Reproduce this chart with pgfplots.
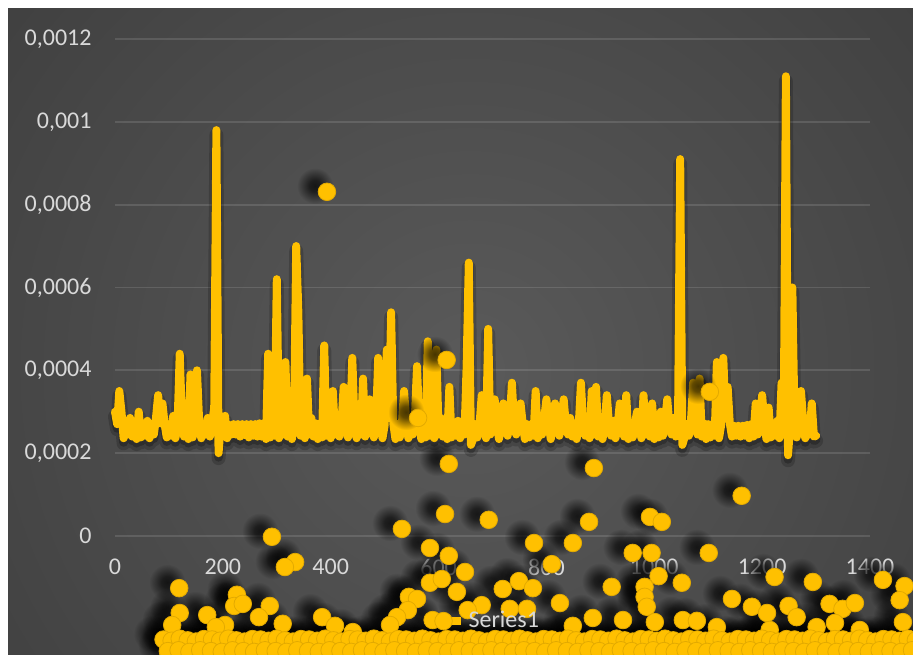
\documentclass[border=0pt]{standalone}
\usepackage{fontspec}
\setmainfont{Carlito}
\usepackage{pgfplots}
\usepackage{pgfplotstable}
\pgfplotsset{compat=1.18}
\definecolor{gold}{HTML}{FFC000}
\definecolor{golddark}{HTML}{E3AA00}
\definecolor{ticktext}{HTML}{D9D9D9}
\definecolor{bgin}{HTML}{5A5A5A}
\definecolor{bgout}{HTML}{262626}
\pgfdeclareradialshading{glow}{\pgfpoint{0bp}{0bp}}{color(0bp)=(bgin); color(50bp)=(bgout)}
\pgfdeclareradialshading{fuzzyshade}{\pgfpointorigin}{color(0bp)=(white!72!black); color(8bp)=(white!62!black); color(25bp)=(black); color(50bp)=(black)}
\pgfdeclarefading{fuzzy}{\pgfuseshading{fuzzyshade}}
\pgfdeclareplotmark{softshadow}{%
  \pgfscope
  \pgflowlevelsynccm
  \pgfsetfading{fuzzy}{\pgftransformscale{0.36}}%
  \pgfpathcircle{\pgfpointorigin}{9.5pt}%
  \pgfusepath{fill}%
  \endpgfscope
}

\pgfplotstableread[row sep=\\]{
x y\\
0 3.0e-4\\ 4 2.70e-4\\ 8 3.5e-4\\ 12 3.0e-4\\ 16 2.36e-4\\ 20 2.68e-4\\ 24 2.45e-4\\ 28 2.85e-4\\ 32 2.40e-4\\ 36 2.72e-4\\
40 2.34e-4\\ 44 3.0e-4\\ 48 2.38e-4\\ 52 2.70e-4\\ 56 2.42e-4\\ 60 2.78e-4\\ 64 2.36e-4\\ 68 2.68e-4\\ 72 2.45e-4\\ 76 2.85e-4\\
80 3.4e-4\\ 84 2.72e-4\\ 88 3.2e-4\\ 92 2.70e-4\\ 96 2.38e-4\\ 100 2.70e-4\\ 104 2.42e-4\\ 108 2.9e-4\\ 112 2.36e-4\\ 116 2.68e-4\\
120 4.4e-4\\ 124 2.85e-4\\ 128 2.40e-4\\ 132 2.72e-4\\ 136 2.34e-4\\ 140 3.9e-4\\ 144 2.38e-4\\ 148 2.70e-4\\ 152 4.0e-4\\ 156 2.78e-4\\
160 2.36e-4\\ 164 2.68e-4\\ 168 2.45e-4\\ 172 2.85e-4\\ 176 2.40e-4\\ 180 2.72e-4\\ 184 3.1e-4\\ 188 9.8e-4\\ 192 2.0e-4\\ 196 2.70e-4\\
200 2.42e-4\\ 204 2.9e-4\\ 208 2.36e-4\\ 212 2.68e-4\\ 216 2.45e-4\\ 220 2.70e-4\\ 224 2.45e-4\\ 228 2.70e-4\\ 232 2.40e-4\\ 236 2.70e-4\\
240 2.44e-4\\ 244 2.70e-4\\ 248 2.38e-4\\ 252 2.70e-4\\ 256 2.42e-4\\ 260 2.70e-4\\ 264 2.40e-4\\ 268 2.72e-4\\ 272 2.40e-4\\ 276 2.72e-4\\
280 2.34e-4\\ 284 4.4e-4\\ 288 2.38e-4\\ 292 2.70e-4\\ 296 2.42e-4\\ 300 6.2e-4\\ 304 2.36e-4\\ 308 2.68e-4\\ 312 2.45e-4\\ 316 4.2e-4\\
320 2.40e-4\\ 324 2.72e-4\\ 328 2.34e-4\\ 332 2.70e-4\\ 336 7.0e-4\\ 340 5.4e-4\\ 344 2.42e-4\\ 348 3.6e-4\\ 352 2.36e-4\\ 356 3.8e-4\\
360 2.45e-4\\ 364 2.85e-4\\ 368 2.40e-4\\ 372 2.72e-4\\ 376 2.34e-4\\ 380 2.70e-4\\ 384 2.38e-4\\ 388 4.6e-4\\ 392 2.42e-4\\ 396 2.78e-4\\
400 2.36e-4\\ 404 3.5e-4\\ 408 2.45e-4\\ 412 2.85e-4\\ 416 2.40e-4\\ 420 2.72e-4\\ 424 3.6e-4\\ 428 2.70e-4\\ 432 2.38e-4\\ 436 2.70e-4\\
440 4.3e-4\\ 444 2.78e-4\\ 448 2.36e-4\\ 452 2.68e-4\\ 456 2.45e-4\\ 460 3.8e-4\\ 464 2.40e-4\\ 468 2.72e-4\\ 472 3.3e-4\\ 476 2.70e-4\\
480 2.38e-4\\ 484 2.70e-4\\ 488 4.3e-4\\ 492 2.78e-4\\ 496 2.36e-4\\ 500 2.68e-4\\ 504 4.5e-4\\ 508 2.85e-4\\ 512 5.4e-4\\ 516 2.72e-4\\
520 2.34e-4\\ 524 2.70e-4\\ 528 2.38e-4\\ 532 2.70e-4\\ 536 3.5e-4\\ 540 2.78e-4\\ 544 2.36e-4\\ 548 2.68e-4\\ 552 2.45e-4\\ 556 2.85e-4\\
560 4.1e-4\\ 564 2.72e-4\\ 568 2.34e-4\\ 572 2.70e-4\\ 576 2.38e-4\\ 580 4.7e-4\\ 584 2.42e-4\\ 588 2.78e-4\\ 592 2.36e-4\\ 596 4.5e-4\\
600 2.45e-4\\ 604 2.85e-4\\ 608 2.40e-4\\ 612 2.72e-4\\ 616 2.34e-4\\ 620 3.6e-4\\ 624 2.38e-4\\ 628 2.70e-4\\ 632 2.42e-4\\ 636 2.78e-4\\
640 2.36e-4\\ 644 2.68e-4\\ 648 2.45e-4\\ 652 4.1e-4\\ 656 6.6e-4\\ 660 2.2e-4\\ 664 2.34e-4\\ 668 2.70e-4\\ 672 2.38e-4\\ 676 2.70e-4\\
680 3.4e-4\\ 684 2.78e-4\\ 688 2.36e-4\\ 692 5.0e-4\\ 696 2.45e-4\\ 700 2.85e-4\\ 704 3.3e-4\\ 708 2.72e-4\\ 712 2.34e-4\\ 716 2.70e-4\\
720 3.2e-4\\ 724 2.70e-4\\ 728 2.42e-4\\ 732 2.78e-4\\ 736 3.7e-4\\ 740 2.68e-4\\ 744 2.45e-4\\ 748 2.85e-4\\ 752 3.2e-4\\ 756 2.72e-4\\
760 2.34e-4\\ 764 2.70e-4\\ 768 2.38e-4\\ 772 2.70e-4\\ 776 2.42e-4\\ 780 3.5e-4\\ 784 2.36e-4\\ 788 2.68e-4\\ 792 2.45e-4\\ 796 2.85e-4\\
800 3.3e-4\\ 804 2.72e-4\\ 808 2.34e-4\\ 812 2.70e-4\\ 816 3.2e-4\\ 820 2.70e-4\\ 824 2.42e-4\\ 828 2.78e-4\\ 832 3.3e-4\\ 836 2.68e-4\\
840 2.45e-4\\ 844 2.85e-4\\ 848 2.40e-4\\ 852 2.72e-4\\ 856 2.34e-4\\ 860 2.70e-4\\ 864 3.7e-4\\ 868 2.70e-4\\ 872 2.42e-4\\ 876 2.78e-4\\
880 2.36e-4\\ 884 3.5e-4\\ 888 2.45e-4\\ 892 3.6e-4\\ 896 2.40e-4\\ 900 2.72e-4\\ 904 2.34e-4\\ 908 2.70e-4\\ 912 3.4e-4\\ 916 2.70e-4\\
920 2.42e-4\\ 924 2.78e-4\\ 928 2.36e-4\\ 932 2.68e-4\\ 936 3.2e-4\\ 940 2.85e-4\\ 944 2.40e-4\\ 948 3.4e-4\\ 952 2.34e-4\\ 956 2.70e-4\\
960 2.38e-4\\ 964 2.70e-4\\ 968 3.0e-4\\ 972 2.78e-4\\ 976 2.36e-4\\ 980 3.4e-4\\ 984 2.45e-4\\ 988 2.85e-4\\ 992 2.40e-4\\ 996 3.2e-4\\
1000 2.34e-4\\ 1004 2.70e-4\\ 1008 2.38e-4\\ 1012 3.0e-4\\ 1016 2.42e-4\\ 1020 2.78e-4\\ 1024 3.3e-4\\ 1028 2.68e-4\\ 1032 2.45e-4\\ 1036 2.85e-4\\
1040 2.40e-4\\ 1044 2.72e-4\\ 1048 9.1e-4\\ 1052 2.2e-4\\ 1056 2.38e-4\\ 1060 2.70e-4\\ 1064 2.42e-4\\ 1068 2.78e-4\\ 1072 3.7e-4\\ 1076 2.68e-4\\
1080 2.45e-4\\ 1084 3.8e-4\\ 1088 2.40e-4\\ 1092 2.72e-4\\ 1096 2.34e-4\\ 1100 2.70e-4\\ 1104 2.38e-4\\ 1108 2.70e-4\\ 1112 2.42e-4\\ 1116 4.2e-4\\
1120 2.36e-4\\ 1124 2.68e-4\\ 1128 4.3e-4\\ 1132 2.85e-4\\ 1136 3.6e-4\\ 1140 2.72e-4\\ 1144 2.40e-4\\ 1148 2.66e-4\\ 1152 2.42e-4\\ 1156 2.66e-4\\
1160 2.40e-4\\ 1164 2.66e-4\\ 1168 2.42e-4\\ 1172 2.68e-4\\ 1176 2.36e-4\\ 1180 2.70e-4\\ 1184 2.40e-4\\ 1188 3.2e-4\\ 1192 2.45e-4\\ 1196 2.85e-4\\
1200 3.4e-4\\ 1204 2.72e-4\\ 1208 2.34e-4\\ 1212 3.1e-4\\ 1216 2.38e-4\\ 1220 2.70e-4\\ 1224 2.42e-4\\ 1228 2.78e-4\\ 1232 2.36e-4\\ 1236 3.7e-4\\
1240 2.45e-4\\ 1244 11.1e-4\\ 1248 1.95e-4\\ 1252 2.72e-4\\ 1256 6.0e-4\\ 1260 2.70e-4\\ 1264 2.38e-4\\ 1268 2.70e-4\\ 1272 3.5e-4\\ 1276 2.78e-4\\
1280 2.36e-4\\ 1284 2.68e-4\\ 1288 2.45e-4\\ 1292 3.2e-4\\ 1296 2.40e-4\\ 1300 2.42e-4\\
}\linedata

\pgfplotstableread[row sep=\\]{
x y\\
393 8.31e-4\\ 615 4.25e-4\\ 562 2.85e-4\\ 1103 3.48e-4\\ 619 1.74e-4\\ 888 1.64e-4\\ 1162 0.97e-4\\ 612 0.53e-4\\
693 0.39e-4\\ 879 0.34e-4\\ 992 0.46e-4\\ 1014 0.34e-4\\ 532 0.17e-4\\ 291 -0.02e-4\\ 777 -0.17e-4\\ 849 -0.17e-4\\
584 -0.29e-4\\ 619 -0.48e-4\\ 960 -0.41e-4\\ 995 -0.41e-4\\ 1101 -0.41e-4\\ 810 -0.68e-4\\ 334 -0.63e-4\\ 315 -0.75e-4\\
649 -0.87e-4\\ 1008 -0.97e-4\\ 1223 -0.99e-4\\ 1424 -1.06e-4\\ 1294 -1.11e-4\\ 1051 -1.13e-4\\ 1464 -1.21e-4\\ 119 -1.26e-4\\
584 -1.13e-4\\ 606 -1.04e-4\\ 634 -1.35e-4\\ 719 -1.28e-4\\ 749 -1.09e-4\\ 775 -1.26e-4\\ 921 -1.23e-4\\ 982 -1.23e-4\\
982 -1.47e-4\\ 986 -1.71e-4\\ 226 -1.42e-4\\ 221 -1.69e-4\\ 237 -1.64e-4\\ 545 -1.47e-4\\ 560 -1.52e-4\\ 1144 -1.52e-4\\
825 -1.62e-4\\ 1181 -1.71e-4\\ 1209 -1.86e-4\\ 1249 -1.69e-4\\ 1264 -1.96e-4\\ 1325 -1.64e-4\\ 1349 -1.76e-4\\ 1372 -1.62e-4\\
1455 -1.55e-4\\ 287 -1.69e-4\\ 680 -1.67e-4\\ 732 -1.76e-4\\ 764 -1.76e-4\\ 654 -1.79e-4\\ 543 -1.79e-4\\ 120 -1.86e-4\\
171 -1.91e-4\\ 267 -1.96e-4\\ 384 -1.96e-4\\ 523 -1.96e-4\\ 886 -1.98e-4\\ 942 -2.03e-4\\ 1001 -2.08e-4\\ 1053 -2.03e-4\\
1079 -2.05e-4\\ 1335 -2.10e-4\\ 1461 -2.08e-4\\ 589 -2.03e-4\\ 106 -2.15e-4\\ 204 -2.15e-4\\ 187 -2.20e-4\\ 311 -2.12e-4\\
408 -2.17e-4\\ 510 -2.15e-4\\ 849 -2.17e-4\\ 1116 -2.20e-4\\ 1214 -2.27e-4\\ 1301 -2.20e-4\\ 1381 -2.27e-4\\ 441 -2.32e-4\\
90 -2.50e-4\\ 105 -2.53e-4\\ 120 -2.48e-4\\ 135 -2.52e-4\\ 150 -2.55e-4\\ 165 -2.49e-4\\ 180 -2.50e-4\\ 195 -2.53e-4\\
210 -2.48e-4\\ 225 -2.52e-4\\ 240 -2.55e-4\\ 255 -2.49e-4\\ 270 -2.50e-4\\ 285 -2.53e-4\\ 300 -2.48e-4\\ 315 -2.52e-4\\
330 -2.55e-4\\ 345 -2.49e-4\\ 360 -2.50e-4\\ 375 -2.53e-4\\ 390 -2.48e-4\\ 405 -2.52e-4\\ 420 -2.55e-4\\ 435 -2.49e-4\\
450 -2.50e-4\\ 465 -2.53e-4\\ 480 -2.48e-4\\ 495 -2.52e-4\\ 510 -2.55e-4\\ 525 -2.49e-4\\ 540 -2.50e-4\\ 555 -2.53e-4\\
570 -2.48e-4\\ 585 -2.52e-4\\ 600 -2.55e-4\\ 615 -2.49e-4\\ 630 -2.50e-4\\ 645 -2.53e-4\\ 660 -2.48e-4\\ 675 -2.52e-4\\
690 -2.55e-4\\ 705 -2.49e-4\\ 720 -2.50e-4\\ 735 -2.53e-4\\ 750 -2.48e-4\\ 765 -2.52e-4\\ 780 -2.55e-4\\ 795 -2.49e-4\\
810 -2.50e-4\\ 825 -2.53e-4\\ 840 -2.48e-4\\ 855 -2.52e-4\\ 870 -2.55e-4\\ 885 -2.49e-4\\ 900 -2.50e-4\\ 915 -2.53e-4\\
930 -2.48e-4\\ 945 -2.52e-4\\ 960 -2.55e-4\\ 975 -2.49e-4\\ 990 -2.50e-4\\ 1005 -2.53e-4\\ 1020 -2.48e-4\\ 1035 -2.52e-4\\
1050 -2.55e-4\\ 1065 -2.49e-4\\ 1080 -2.50e-4\\ 1095 -2.53e-4\\ 1110 -2.48e-4\\ 1125 -2.52e-4\\ 1140 -2.55e-4\\ 1155 -2.49e-4\\
1170 -2.50e-4\\ 1185 -2.53e-4\\ 1200 -2.48e-4\\ 1215 -2.52e-4\\ 1230 -2.55e-4\\ 1245 -2.49e-4\\ 1260 -2.50e-4\\ 1275 -2.53e-4\\
1290 -2.48e-4\\ 1305 -2.52e-4\\ 1320 -2.55e-4\\ 1335 -2.49e-4\\ 1350 -2.50e-4\\ 1365 -2.53e-4\\ 1380 -2.48e-4\\ 1395 -2.52e-4\\
1410 -2.55e-4\\ 1425 -2.49e-4\\ 1440 -2.50e-4\\ 1455 -2.53e-4\\ 1470 -2.48e-4\\ 1485 -2.52e-4\\
98 -2.78e-4\\ 118 -2.76e-4\\ 138 -2.80e-4\\ 158 -2.76e-4\\ 178 -2.78e-4\\ 198 -2.80e-4\\ 218 -2.76e-4\\ 238 -2.78e-4\\
258 -2.80e-4\\ 278 -2.76e-4\\ 298 -2.78e-4\\ 318 -2.80e-4\\ 338 -2.76e-4\\ 358 -2.78e-4\\ 378 -2.80e-4\\ 398 -2.76e-4\\
418 -2.78e-4\\ 438 -2.80e-4\\ 458 -2.76e-4\\ 478 -2.78e-4\\ 498 -2.80e-4\\ 518 -2.76e-4\\ 538 -2.78e-4\\ 558 -2.80e-4\\
578 -2.76e-4\\ 598 -2.78e-4\\ 618 -2.80e-4\\ 638 -2.76e-4\\ 658 -2.78e-4\\ 678 -2.80e-4\\ 698 -2.76e-4\\ 718 -2.78e-4\\
738 -2.80e-4\\ 758 -2.76e-4\\ 778 -2.78e-4\\ 798 -2.80e-4\\ 818 -2.76e-4\\ 838 -2.78e-4\\ 858 -2.80e-4\\ 878 -2.76e-4\\
898 -2.78e-4\\ 918 -2.80e-4\\ 938 -2.76e-4\\ 958 -2.78e-4\\ 978 -2.80e-4\\ 998 -2.76e-4\\ 1018 -2.78e-4\\ 1038 -2.80e-4\\
1058 -2.76e-4\\ 1078 -2.78e-4\\ 1098 -2.80e-4\\ 1118 -2.76e-4\\ 1138 -2.78e-4\\ 1158 -2.80e-4\\ 1178 -2.76e-4\\ 1198 -2.78e-4\\
1218 -2.80e-4\\ 1238 -2.76e-4\\ 1258 -2.78e-4\\ 1278 -2.80e-4\\ 1298 -2.76e-4\\ 1318 -2.78e-4\\ 1338 -2.80e-4\\ 1358 -2.76e-4\\
1378 -2.78e-4\\ 1398 -2.80e-4\\ 1418 -2.76e-4\\ 1438 -2.78e-4\\ 1458 -2.80e-4\\ 1478 -2.76e-4\\
}\markdata

\begin{document}
\begin{tikzpicture}[font=\fontsize{12}{14}\selectfont]
\useasboundingbox (0,0) rectangle (456.5pt,327pt);
\fill[white] (0,0) rectangle (456.5pt,327pt);
\begin{scope}
\clip (4pt,0) rectangle (456.5pt,322.5pt);
\fill[bgout] (4pt,0) rectangle (456.5pt,322.5pt);
\shade[shading=glow] (235pt,142pt) circle (300pt);
\begin{axis}[
  at={(57.5pt,-3.1pt)}, anchor=south west,
  scale only axis, width=377.5pt, height=310.6pt,
  xmin=0, xmax=1400, ymin=-0.0003, ymax=0.0012,
  clip=false,
  axis line style={draw=none},
  major tick style={draw=none},
  xtick={0,200,400,600,800,1000,1200,1400},
  ytick={0,0.0002,0.0004,0.0006,0.0008,0.001,0.0012},
  ymajorgrids,
  major grid style={white, opacity=0.12, line width=0.9pt},
  scaled y ticks=false,
  /pgf/number format/assume math mode=true,
  yticklabel style={/pgf/number format/fixed, /pgf/number format/precision=4, /pgf/number format/use comma, /pgf/number format/1000 sep={}, xshift=-8.2pt},
  xticklabel style={/pgf/number format/1000 sep={}, yshift=54.1pt},
  tick label style={text=ticktext},
  legend style={at={(0.487,0.063)}, anchor=center, draw=none, fill=none, text=ticktext},
]
\addlegendimage{gold, line width=4pt, mark=*, mark size=4.4pt, mark options={fill=gold, draw=golddark, line width=0.4pt}}
\addlegendentry{Series1}
% line shadow
\addplot[forget plot, black, opacity=0.18, line width=7pt, line join=round, line cap=round, yshift=-2.5pt] table[x=x,y=y]{\linedata};
\addplot[forget plot, black, opacity=0.25, line width=4.5pt, line join=round, line cap=round, yshift=-2pt] table[x=x,y=y]{\linedata};
\addplot[forget plot, gold, line width=4pt, line join=round, line cap=round] table[x=x,y=y]{\linedata};
% soft marker shadows
\addplot[forget plot, only marks, mark=softshadow, mark options={fill=black, draw=none, xshift=-6pt, yshift=3pt}] table[x=x,y=y]{\markdata};
% markers
\addplot[forget plot, only marks, mark=*, mark size=4.4pt, mark options={fill=gold, draw=golddark, line width=0.4pt}] table[x=x,y=y]{\markdata};
\end{axis}
\end{scope}
\end{tikzpicture}
\end{document}
